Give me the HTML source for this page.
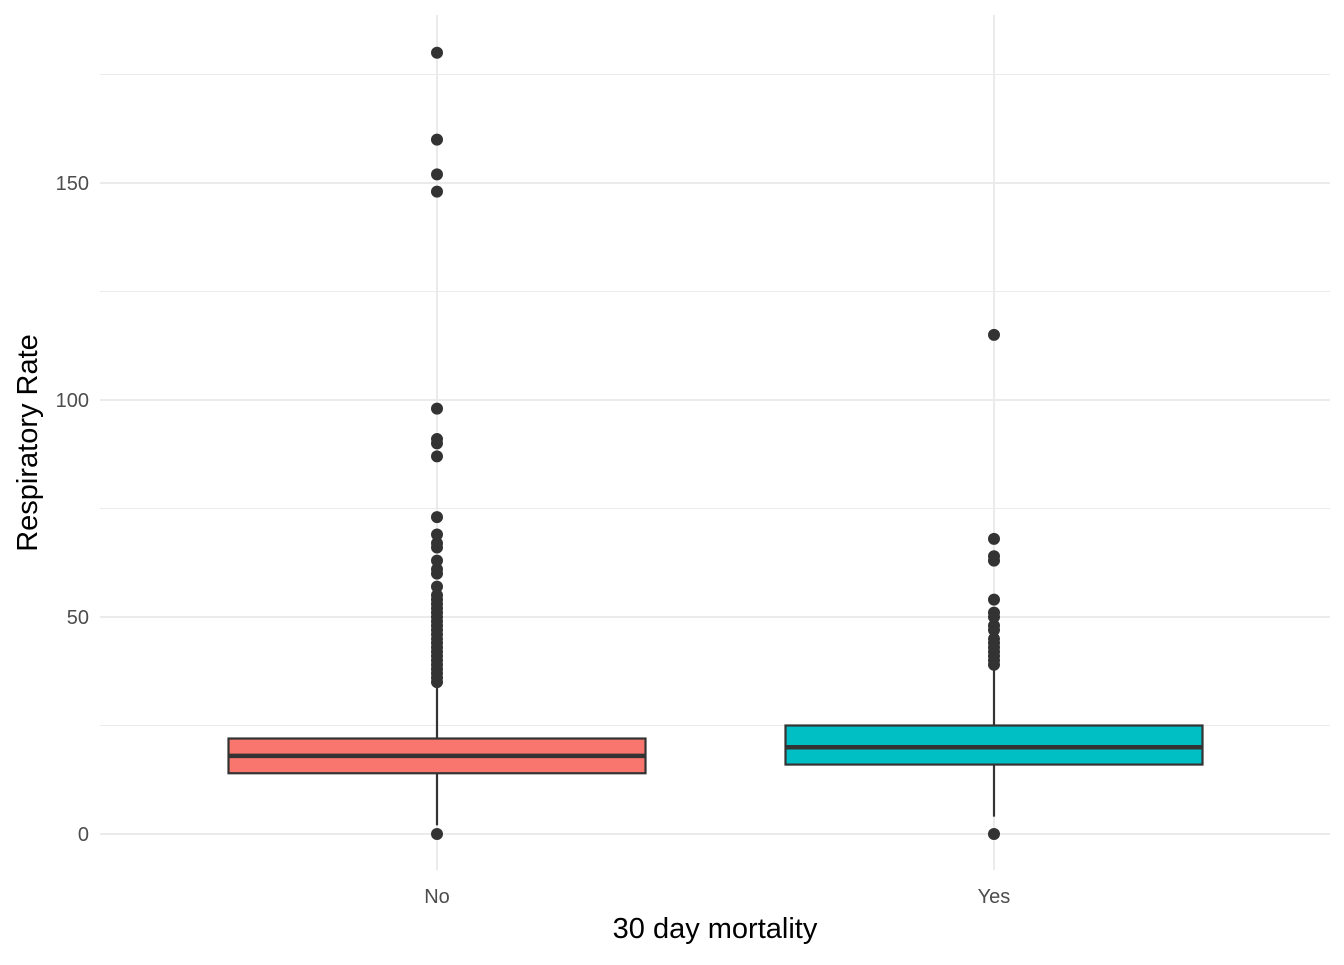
<!DOCTYPE html>
<html><head><meta charset="utf-8"><style>
body{margin:0;background:#fff;font-family:"Liberation Sans",sans-serif}
</style></head><body>
<svg id="chart" width="1344" height="960" xmlns="http://www.w3.org/2000/svg" font-family="Liberation Sans, sans-serif"></svg>
<script>
const categories = ["No","Yes"];
const colors = ["#F8766D","#00BFC4"];
const q1 = [14,16];
const median = [18,20];
const q3 = [22,25];
const whiskerLow = [2,4];
const whiskerHigh = [34,38];
const outliersNo = [0,35,36,37,38,39,40,41,42,43,44,45,46,47,48,49,50,51,52,53,54,55,57,60,61,63,66,67,69,73,87,90,91,98,148,152,160,180];
const outliersYes = [0,39,40,41,42,43,44,45,47,48,50,51,54,63,64,68,115];
const outliers = [outliersNo, outliersYes];
const yTicks = [0,50,100,150];
const yMinor = [25,75,125,175];

const svg = document.getElementById('chart');
const NS = 'http://www.w3.org/2000/svg';
const y = v => 834 - v * 4.34;
const xc = i => 437 + i * 557;
const halfW = 208.5;
function mk(tag, attrs, parent){const e=document.createElementNS(NS,tag);for(const k in attrs)e.setAttribute(k,attrs[k]);(parent||svg).appendChild(e);return e;}

yMinor.forEach(v=>{const l=mk('line',{x1:100,x2:1330,y1:y(v),y2:y(v),stroke:'#ebebeb','stroke-width':1});

});
yTicks.forEach(v=>{const l=mk('line',{x1:100,x2:1330,y1:y(v),y2:y(v),stroke:'#ebebeb','stroke-width':2});


const t=mk('text',{x:89,y:y(v)+7,'text-anchor':'end','font-size':20,fill:'#4d4d4d'});t.textContent=v;

});
categories.forEach((c,i)=>{const l=mk('line',{x1:xc(i),x2:xc(i),y1:15,y2:870,stroke:'#ebebeb','stroke-width':2});


const t=mk('text',{x:xc(i),y:903,'text-anchor':'middle','font-size':20,fill:'#4d4d4d'});t.textContent=c;

});

categories.forEach((c,i)=>{
  const g=mk('g',{});
  
  
  mk('line',{x1:xc(i),x2:xc(i),y1:y(q3[i]),y2:y(whiskerHigh[i]),stroke:'#333','stroke-width':2.2},g);
  mk('line',{x1:xc(i),x2:xc(i),y1:y(q1[i]),y2:y(whiskerLow[i]),stroke:'#333','stroke-width':2.2},g);
  mk('rect',{x:xc(i)-halfW,y:y(q3[i]),width:halfW*2,height:y(q1[i])-y(q3[i]),fill:colors[i],stroke:'#333','stroke-width':2.2},g);
  mk('line',{x1:xc(i)-halfW,x2:xc(i)+halfW,y1:y(median[i]),y2:y(median[i]),stroke:'#333','stroke-width':4.5},g);
  outliers[i].forEach(v=>{const p=mk('circle',{cx:xc(i),cy:y(v),r:6,fill:'#333'},g);
    
    });
});

const xt=mk('text',{x:715,y:938,'text-anchor':'middle','font-size':29,fill:'#000'});xt.textContent='30 day mortality';


const yt=mk('text',{x:0,y:0,'text-anchor':'middle','font-size':29,fill:'#000',transform:'translate(37,443) rotate(-90)'});yt.textContent='Respiratory Rate';


</script>
</body></html>
